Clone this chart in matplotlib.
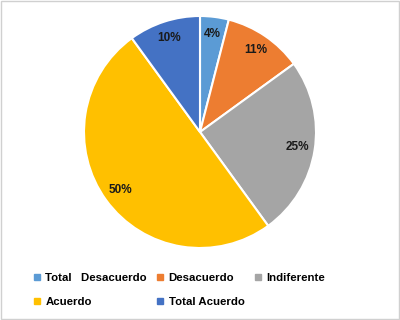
import matplotlib.pyplot as plt
from matplotlib.patches import Rectangle
from matplotlib.lines import Line2D

# Survey answers
categorias = ['Total   Desacuerdo', 'Desacuerdo', 'Indiferente', 'Acuerdo', 'Total Acuerdo']
porcentajes = [4, 11, 25, 50, 10]
colores = ['#5B9BD5', '#ED7D31', '#A5A5A5', '#FFC000', '#4472C4']

plt.rcParams['font.family'] = ['Liberation Sans', 'DejaVu Sans']

fig = plt.figure(figsize=(4, 3.2), dpi=100)
ax = fig.add_axes([0.21, 0.225, 0.58, 0.725])

wedges, texts, autotexts = ax.pie(
    porcentajes,
    colors=colores,
    startangle=90,
    counterclock=False,
    autopct=lambda p: f"{p:.0f}%",
    pctdistance=0.85,
    wedgeprops={'edgecolor': 'white', 'linewidth': 1.5},
    textprops={'fontsize': 8.5, 'fontweight': 'bold', 'color': '#1a1a1a'},
)
ax.set_xlim(-1, 1)
ax.set_ylim(-1, 1)
ax.set_aspect('equal')

# legend below the pie, filled row by row like the original
orden = [0, 3, 1, 4, 2]
handles = [Line2D([], [], marker='s', linestyle='', markersize=4.5,
                  markerfacecolor=colores[i], markeredgecolor=colores[i]) for i in orden]
etiquetas = [categorias[i] for i in orden]
fig.legend(handles, etiquetas, loc='upper left', bbox_to_anchor=(0.058, 0.18),
           ncol=3, frameon=False, handlelength=0.6, handletextpad=0.45,
           columnspacing=0.85, labelspacing=1.25,
           prop={'size': 8.2, 'weight': 'bold'})

# light frame around the chart
fig.patches.append(Rectangle((0.003, 0.004), 0.994, 0.992, transform=fig.transFigure,
                             fill=False, edgecolor='#d0d0d0', linewidth=1))

plt.savefig('out.png', dpi=100)
